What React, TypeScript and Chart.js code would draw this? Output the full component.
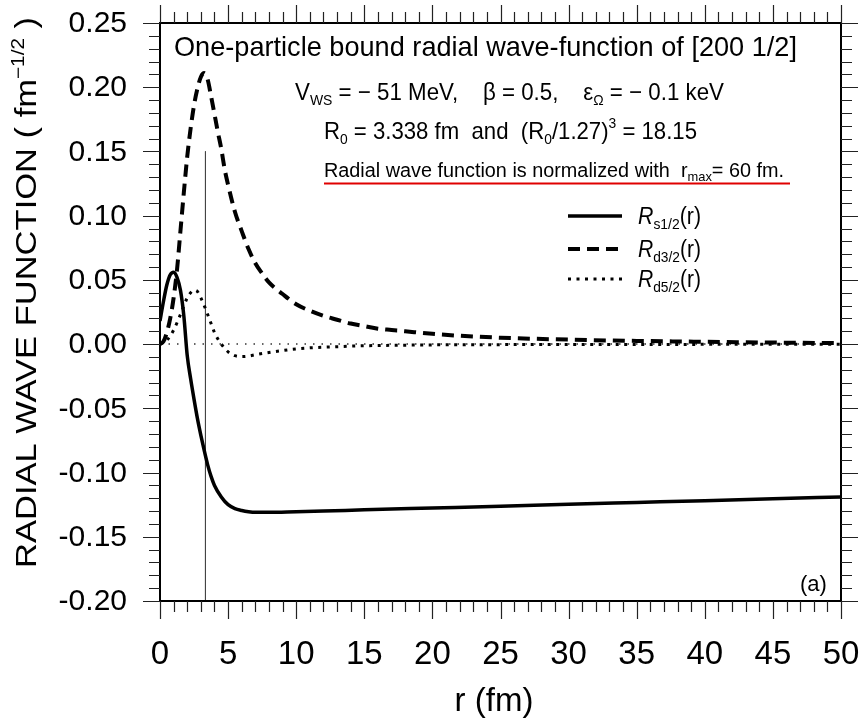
import React, { useEffect, useRef } from "react";
import { Chart, registerables } from "chart.js";

Chart.register(...registerables);

// ---------------- data ----------------
const rS = [0, 0.25, 0.5, 0.75, 1.0, 1.25, 1.5, 1.75, 2.0, 2.25, 2.5, 2.75, 3.0, 3.25, 3.5, 3.75, 4.0, 4.5, 5, 5.5, 6, 6.5, 7, 8, 10, 12, 15, 20, 25, 30, 35, 40, 45, 50];
const sVals = [0.018, 0.033, 0.046, 0.054, 0.056, 0.052, 0.042, 0.022, -0.009, -0.027, -0.043, -0.058, -0.071, -0.083, -0.094, -0.103, -0.110, -0.119, -0.125, -0.128, -0.1295, -0.1305, -0.131, -0.131, -0.1305, -0.130, -0.129, -0.1276, -0.1262, -0.1247, -0.1233, -0.1219, -0.1204, -0.119];

const rD3 = [0, 0.25, 0.5, 0.75, 1.0, 1.25, 1.5, 1.75, 2.0, 2.25, 2.5, 2.75, 3.0, 3.25, 3.5, 3.75, 4.0, 4.25, 4.5, 4.75, 5, 5.5, 6, 6.5, 7, 7.5, 8, 9, 10, 11, 12, 13, 14, 15, 16, 17, 18, 20, 22, 25, 30, 35, 40, 45, 50];
const d3Vals = [0, 0.002, 0.009, 0.020, 0.036, 0.058, 0.088, 0.118, 0.146, 0.168, 0.186, 0.199, 0.208, 0.211, 0.206, 0.193, 0.179, 0.165, 0.152, 0.136, 0.124, 0.103, 0.088, 0.074, 0.063, 0.055, 0.048, 0.039, 0.031, 0.026, 0.022, 0.019, 0.016, 0.014, 0.012, 0.011, 0.010, 0.008, 0.0065, 0.005, 0.0035, 0.0025, 0.0018, 0.0012, 0.0008];

const rD5 = [0, 0.5, 1, 1.5, 2, 2.25, 2.5, 2.75, 3, 3.25, 3.5, 3.75, 4, 4.25, 4.5, 5, 5.5, 6, 6.5, 7, 8, 9, 10, 11, 12, 13, 14, 15, 16, 18, 20, 25, 30, 40, 50];
const d5Vals = [0, 0.003, 0.011, 0.023, 0.036, 0.040, 0.042, 0.041, 0.036, 0.030, 0.023, 0.016, 0.009, 0.004, 0, -0.006, -0.009, -0.0097, -0.0093, -0.0083, -0.0065, -0.005, -0.0037, -0.0029, -0.0024, -0.002, -0.0016, -0.0013, -0.0011, -0.0008, -0.0006, -0.0004, -0.0003, -0.0002, -0.0001];

const R0 = 3.338;
const r0LineY = [0.15, -0.2];

const xTickVals = [0, 5, 10, 15, 20, 25, 30, 35, 40, 45, 50];
const xTickLabels = ["0", "5", "10", "15", "20", "25", "30", "35", "40", "45", "50"];
const yTickVals = [0.25, 0.2, 0.15, 0.1, 0.05, 0, -0.05, -0.1, -0.15, -0.2];
const yTickLabels = ["0.25", "0.20", "0.15", "0.10", "0.05", "0.00", "-0.05", "-0.10", "-0.15", "-0.20"];

const legendLabels = [
  { main: "R", sub: "s1/2", tail: "(r)" },
  { main: "R", sub: "d3/2", tail: "(r)" },
  { main: "R", sub: "d5/2", tail: "(r)" },
];

// ---------------- helpers ----------------
const FF = '"Liberation Sans", Arial, Helvetica, sans-serif';

type Part = { t: string; size: number; dy?: number; italic?: boolean };

function drawRich(ctx: CanvasRenderingContext2D, parts: Part[], x: number, y: number, target?: number) {
  let total = 0;
  const widths: number[] = [];
  for (const p of parts) {
    ctx.font = `${p.italic ? "italic " : ""}${p.size}px ${FF}`;
    const w = ctx.measureText(p.t).width;
    widths.push(w);
    total += w;
  }
  const sc = target ? target / total : 1;
  ctx.save();
  ctx.translate(x, y);
  ctx.scale(sc, 1);
  let cx = 0;
  parts.forEach((p, i) => {
    ctx.font = `${p.italic ? "italic " : ""}${p.size}px ${FF}`;
    ctx.fillText(p.t, cx, p.dy || 0);
    cx += widths[i];
  });
  ctx.restore();
}

const decorPlugin = {
  id: "decor",
  afterDraw(chart: any) {
    const ctx: CanvasRenderingContext2D = chart.ctx;
    const ca = chart.chartArea;
    const xs = chart.scales.x;
    const ys = chart.scales.y;
    ctx.save();
    ctx.fillStyle = "#000";
    ctx.strokeStyle = "#000";

    // frame
    ctx.lineWidth = 2;
    ctx.strokeRect(ca.left, ca.top, ca.right - ca.left, ca.bottom - ca.top);

    // ticks (outward, all four sides)
    ctx.lineWidth = 1.2;
    ctx.strokeStyle = "#222";
    ctx.beginPath();
    for (let i = 0; i <= 50; i++) {
      const px = Math.round(xs.getPixelForValue(i)) + 0.5;
      const len = i % 5 === 0 ? 18 : 11;
      ctx.moveTo(px, ca.bottom);
      ctx.lineTo(px, ca.bottom + len);
      ctx.moveTo(px, ca.top);
      ctx.lineTo(px, ca.top - len);
    }
    for (let k = -20; k <= 25; k++) {
      const py = Math.round(ys.getPixelForValue(k / 100)) + 0.5;
      const len = k % 5 === 0 ? 17 : 11;
      ctx.moveTo(ca.left, py);
      ctx.lineTo(ca.left - len, py);
      ctx.moveTo(ca.right, py);
      ctx.lineTo(ca.right + len, py);
    }
    ctx.stroke();

    // tick labels
    ctx.fillStyle = "#000";
    ctx.font = `33px ${FF}`;
    ctx.textAlign = "center";
    ctx.textBaseline = "alphabetic";
    xTickVals.forEach((v, i) => {
      ctx.fillText(xTickLabels[i], xs.getPixelForValue(v), 664);
    });
    ctx.font = `30px ${FF}`;
    ctx.textAlign = "right";
    ctx.textBaseline = "middle";
    yTickVals.forEach((v, i) => {
      ctx.fillText(yTickLabels[i], 127, ys.getPixelForValue(v) + 1);
    });

    // axis titles
    ctx.textAlign = "left";
    ctx.textBaseline = "alphabetic";
    ctx.font = `33px ${FF}`;
    ctx.textAlign = "center";
    ctx.fillText("r (fm)", 494, 711);
    ctx.textAlign = "left";

    ctx.save();
    ctx.translate(36, 568);
    ctx.rotate(-Math.PI / 2);
    drawRich(ctx, [
      { t: "RADIAL WAVE FUNCTION ( fm", size: 30 },
      { t: "−1/2", size: 18, dy: -12 },
      { t: " )", size: 30 },
    ], 0, 0, 551);
    ctx.restore();

    // title and annotations
    drawRich(ctx, [{ t: "One-particle bound radial wave-function of [200 1/2]", size: 28 }], 174, 56, 623);
    drawRich(ctx, [
      { t: "V", size: 24 },
      { t: "WS", size: 15, dy: 5 },
      { t: " = − 51 MeV,    β = 0.5,    ε", size: 24 },
      { t: "Ω", size: 15, dy: 5 },
      { t: " = − 0.1 keV", size: 24 },
    ], 295, 100, 429);
    drawRich(ctx, [
      { t: "R", size: 24 },
      { t: "0", size: 15, dy: 5 },
      { t: " = 3.338 fm  and  (R", size: 24 },
      { t: "0", size: 15, dy: 5 },
      { t: "/1.27)", size: 24 },
      { t: "3", size: 15, dy: -11 },
      { t: " = 18.15", size: 24 },
    ], 324, 139, 373);
    drawRich(ctx, [
      { t: "Radial wave function is normalized with  r", size: 20 },
      { t: "max", size: 13, dy: 4 },
      { t: "= 60 fm.", size: 20 },
    ], 324, 177, 460);
    ctx.strokeStyle = "#e00000";
    ctx.lineWidth = 2;
    ctx.beginPath();
    ctx.moveTo(324, 183.5);
    ctx.lineTo(790, 183.5);
    ctx.stroke();

    // legend
    const legY = [216, 249, 279];
    const dashes = [[], [12, 7], [3, 5.5]];
    const widthsL = [3.5, 4, 3];
    ctx.strokeStyle = "#000";
    legendLabels.forEach((lab, i) => {
      ctx.save();
      ctx.lineWidth = widthsL[i];
      ctx.setLineDash(dashes[i]);
      ctx.lineCap = "butt";
      ctx.beginPath();
      ctx.moveTo(568, legY[i]);
      ctx.lineTo(622, legY[i]);
      ctx.stroke();
      ctx.restore();
      drawRich(ctx, [
        { t: lab.main, size: 23, italic: true },
        { t: lab.sub, size: 15, dy: 5 },
        { t: lab.tail, size: 23 },
      ], 638, legY[i] + 8, 63);
    });

    // panel label
    ctx.font = `22px ${FF}`;
    ctx.fillText("(a)", 800, 591);

    ctx.restore();
  },
};

export default function App() {
  const ref = useRef<HTMLCanvasElement | null>(null);
  useEffect(() => {
    if (!ref.current) return;
    const toXY = (xs: number[], ys: number[]) => xs.map((x, i) => ({ x, y: ys[i] }));
    const chart = new Chart(ref.current, {
      type: "line",
      data: {
        datasets: [
          {
            label: "Rs1/2",
            data: toXY(rS, sVals),
            borderColor: "#000",
            borderWidth: 3.5,
            pointRadius: 0,
            cubicInterpolationMode: "monotone",
            fill: false,
          },
          {
            label: "Rd3/2",
            data: toXY(rD3, d3Vals),
            borderColor: "#000",
            borderWidth: 4,
            borderDash: [12, 7],
            pointRadius: 0,
            cubicInterpolationMode: "monotone",
            fill: false,
          },
          {
            label: "Rd5/2",
            data: toXY(rD5, d5Vals),
            borderColor: "#000",
            borderWidth: 3,
            borderDash: [3, 5.5],
            pointRadius: 0,
            cubicInterpolationMode: "monotone",
            fill: false,
          },
          {
            label: "zero",
            data: [{ x: 0, y: 0 }, { x: 50, y: 0 }],
            borderColor: "#333",
            borderWidth: 1.5,
            borderDash: [1.5, 7],
            pointRadius: 0,
            fill: false,
          },
          {
            label: "R0",
            data: r0LineY.map((y) => ({ x: R0, y })),
            borderColor: "#444",
            borderWidth: 1,
            pointRadius: 0,
            fill: false,
          },
        ],
      },
      options: {
        animation: false,
        responsive: false,
        layout: { padding: { left: 160, top: 23, right: 25, bottom: 120 }, autoPadding: false },
        plugins: { legend: { display: false }, tooltip: { enabled: false }, title: { display: false } },
        scales: {
          x: { type: "linear", min: 0, max: 50, display: false },
          y: { type: "linear", min: -0.2, max: 0.25, display: false },
        },
      },
      plugins: [decorPlugin],
    });
    return () => chart.destroy();
  }, []);
  return (
    <div style={{ position: "absolute", left: 0, top: 0, width: 866, height: 721, background: "#fff" }}>
      <canvas ref={ref} width={866} height={721} style={{ display: "block" }} />
    </div>
  );
}
